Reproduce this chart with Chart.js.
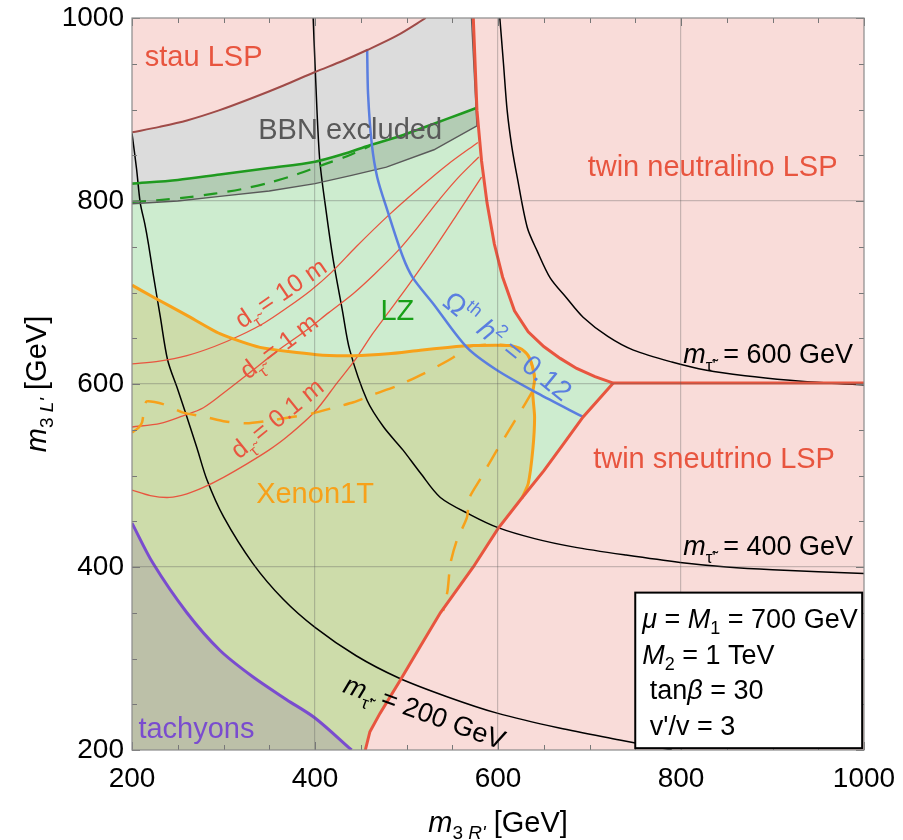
<!DOCTYPE html>
<html lang="en">
<head>
<meta charset="UTF-8">
<title>Twin stau parameter space</title>
<script src="https://cdn.jsdelivr.net/npm/chart.js@4"></script>
<style>
  body { margin: 0; background: #ffffff; }
  #wrap { width: 903px; height: 840px; }
</style>
</head>
<body>
<div id="wrap"><canvas id="plot" width="903" height="840"></canvas></div>
<script>
// axis range and tick labels (GeV)
const axisMin = 200, axisMax = 1000;
const tickValues = [200, 400, 600, 800, 1000];

// stau LSP boundary (stau LSP above)
const stauX = [200, 230, 260, 295, 330, 365, 400, 430, 457, 490, 521];
const stauY = [875, 881, 888, 899, 912, 926, 941, 953, 965, 981, 1000];

// BBN excluded: lower and right edge of the grey band
const bbnX = [200, 250, 296, 350, 400, 440, 478, 530, 577, 571];
const bbnY = [797, 800, 805, 811, 819, 828, 837, 856, 882, 1000];

// LZ limit (solid) and projected (dashed)
const lzX = [200, 250, 296, 350, 400, 430, 460, 490, 515, 545, 577];
const lzY = [819, 823, 829, 836, 843, 851, 861, 870, 879, 890, 902];
const lzDashX = [200, 230, 260, 290, 320, 350, 380, 410, 435, 460];
const lzDashY = [799, 801, 804, 808, 813, 820, 829, 840, 849, 860];

// twin neutralino LSP boundary, then twin sneutrino LSP boundary
const neutX = [573, 577, 582, 588, 596, 605, 618, 633, 650, 668, 686, 706, 726];
const neutY = [1000, 899, 844, 798, 753, 717, 680, 657, 641, 628, 617, 608, 601];
const sneuX = [726, 710, 693, 672, 650, 625, 600, 573, 555, 537, 515, 493, 471, 460, 455];
const sneuY = [601, 583, 564, 535, 505, 474, 442, 400, 375, 350, 313, 276, 240, 220, 200];

// Xenon1T limit (solid) and second orange contour (dashed)
const xenonX = [200, 225, 260, 296, 340, 402, 442, 480, 515, 545, 573, 613, 626, 633, 638, 640, 638, 640, 638, 633, 626];
const xenonY = [708, 694, 675, 655, 640, 632, 631, 633, 637, 640, 642, 642, 638, 631, 618, 605, 590, 564, 528, 491, 475];
const xenonDashX = [200, 207, 211, 213, 216, 234, 255, 280, 302, 325, 351, 375, 398, 420, 442, 465, 490, 520, 551, 565, 590, 613, 633, 640, 638, 627, 610, 599, 588, 580, 569, 566, 555, 548, 545, 542, 540];
const xenonDashY = [547, 552, 558, 570, 581, 578, 569, 564, 559, 557, 560, 564, 568, 574, 580, 589, 598, 612, 629, 640, 643, 642, 631, 607, 593, 574, 546, 528, 509, 495, 476, 454, 429, 404, 375, 360, 352];

// tachyon boundary
const tachX = [200, 223, 260, 296, 332, 369, 400, 440];
const tachY = [448, 404, 350, 309, 280, 255, 235, 200];

// relic abundance contour
const omegaX = [457, 458, 462, 468, 479, 496, 507, 529, 566, 599, 643, 693];
const omegaY = [966, 917, 863, 826, 790, 739, 716, 688, 640, 615, 590, 564];

// twin stau mass contours
const m200X = [200, 205, 209, 214, 218, 223, 231, 239, 250, 260, 271, 282, 300, 332, 365, 400, 445, 491, 545, 600, 667, 733, 790];
const m200Y = [874, 835, 798, 775, 753, 721, 673, 626, 594, 564, 530, 495, 455, 404, 365, 334, 303, 279, 258, 240, 224, 211, 200];
const m400X = [398, 400, 405, 412, 420, 430, 438, 457, 475, 496, 515, 537, 570, 600, 640, 682, 740, 799, 850, 900, 1000];
const m400Y = [1000, 950, 847, 790, 735, 680, 637, 582, 553, 528, 503, 476, 457, 443, 431, 422, 413, 405, 400, 397, 393];
const m600X = [602, 606, 610, 615, 621, 632, 643, 657, 675, 693, 720, 748, 790, 828, 870, 919, 960, 1000];
const m600Y = [1000, 950, 899, 860, 826, 771, 745, 716, 694, 673, 652, 637, 624, 615, 609, 604, 601, 599];

// stau decay length contours
const d10X = [200, 230, 260, 290, 318, 345, 369, 395, 418, 445, 480, 515, 545, 578];
const d10Y = [622, 625, 631, 641, 653, 667, 683, 702, 722, 750, 784, 815, 840, 864];
const d1X = [200, 231, 255, 278, 305, 332, 360, 391, 415, 442, 465, 491, 512, 533, 556, 579];
const d1Y = [553, 557, 565, 574, 594, 615, 637, 659, 678, 699, 720, 746, 771, 798, 825, 848];
const d01X = [200, 220, 241, 260, 278, 300, 326, 350, 369, 400, 424, 445, 463, 480, 500, 529, 555, 582];
const d01Y = [484, 478, 476, 480, 487, 498, 513, 528, 542, 570, 601, 628, 655, 678, 705, 746, 785, 826];

const FAM = "'Liberation Sans', Arial, Helvetica, sans-serif";
const RED = '#e8553f';

function pts(xs, ys) {
    return xs.map((x, i) => ({ x: x, y: ys[i] }));
}

function area(points, color, fill) {
    return {
        data: points, showLine: true, fill: fill || 'shape',
        backgroundColor: color, borderColor: 'rgba(0,0,0,0)', borderWidth: 1,
        pointRadius: 0, tension: 0
    };
}

function curve(points, color, width, dash, tension) {
    return {
        data: points, showLine: true, fill: false,
        borderColor: color, borderWidth: width, borderDash: dash || [],
        pointRadius: 0, tension: tension === undefined ? 0.3 : tension
    };
}

// filled regions
const pinkTwin = pts(neutX, neutY).concat(pts(sneuX, sneuY).slice(1),
    [{ x: axisMax, y: axisMin }, { x: axisMax, y: axisMax }]);
const greenLZ = pts(lzX, lzY).concat(
    pts(neutX, neutY).filter(p => p.y < lzY[lzY.length - 1]),
    pts(sneuX, sneuY).slice(1), [{ x: axisMin, y: axisMin }]);
const xenonArea = pts(xenonX, xenonY).concat(
    pts(sneuX, sneuY).filter(p => p.y < xenonY[xenonY.length - 1]), [{ x: axisMin, y: axisMin }]);
const tachArea = pts(tachX, tachY).concat([{ x: axisMin, y: axisMin }]);
const bbnArea = pts(stauX, stauY).concat(pts(bbnX, bbnY).reverse());

// bottom to top
const layers = [
    area(pinkTwin, '#f9dcd9'),
    area(pts(stauX, stauY), '#f9dcd9', 'end'),
    area(greenLZ, '#cdeccf'),
    area(xenonArea, '#cddcaa'),
    area(tachArea, '#bcc0a8'),
    area(bbnArea, 'rgba(60,60,60,0.18)'),
    curve(pts(m200X, m200Y), '#000', 1.5),
    curve(pts(m400X, m400Y), '#000', 1.5),
    curve(pts(m600X, m600Y), '#000', 1.5),
    curve(pts(d10X, d10Y), RED, 1.3),
    curve(pts(d1X, d1Y), RED, 1.3),
    curve(pts(d01X, d01Y), RED, 1.3),
    curve(pts(lzDashX, lzDashY), '#1f9a1f', 2.2, [14, 10]),
    curve(pts(lzX, lzY), '#1f9a1f', 2.6),
    curve(pts(bbnX, bbnY), '#5a5a5a', 1.4, [], 0),
    curve(pts(xenonDashX, xenonDashY), '#f7a11a', 2.5, [20, 14], 0.2),
    curve(pts(xenonX, xenonY), '#f7a11a', 3, [], 0.2),
    curve(pts(omegaX, omegaY), '#5a7ee0', 2.5),
    curve(pts(tachX, tachY), '#7a4ccf', 3),
    curve(pts(neutX, neutY).concat([{ x: axisMax, y: neutY[neutY.length - 1] }]), RED, 3, [], 0),
    curve(pts(sneuX, sneuY), RED, 3, [], 0),
    curve(pts(stauX, stauY), '#a04b48', 2)
];
layers.forEach((d, i) => { d.order = layers.length - i; });

// text helpers: run = [text, size, italic, dy]
function runFont(r) {
    return (r[2] ? 'italic ' : '') + r[1] + 'px ' + FAM;
}
function drawRuns(ctx, runs, x, y, align, angle, color) {
    ctx.save();
    ctx.translate(x, y);
    if (angle) ctx.rotate(angle * Math.PI / 180);
    ctx.fillStyle = color;
    ctx.textBaseline = 'alphabetic';
    let w = 0, big = 0;
    runs.forEach(r => { ctx.font = runFont(r); w += ctx.measureText(r[0]).width; big = Math.max(big, r[1]); });
    let cx = align === 'center' ? -w / 2 : align === 'right' ? -w : 0;
    const base = big * 0.36;
    runs.forEach(r => {
        ctx.font = runFont(r);
        ctx.fillText(r[0], cx, base + (r[3] || 0));
        cx += ctx.measureText(r[0]).width;
    });
    ctx.restore();
}
function mTau(size, rest) {
    return [['m', size, true], ['\u03c4\u0303\'', Math.round(size * 0.62), false, Math.round(size * 0.3)], [rest, size, false]];
}
function dTau(rest) {
    return [['d', 25, false], ['\u03c4\u0303', 16, false, 8], [rest, 25, false]];
}

// label positions in data coordinates
const labels = [
    { runs: [['stau LSP', 29]], x: 214, y: 959, align: 'left', color: RED },
    { runs: [['BBN excluded', 29]], x: 338, y: 879, align: 'left', color: '#595959' },
    { runs: [['twin neutralino LSP', 29]], x: 698, y: 839, align: 'left', color: RED },
    { runs: [['twin sneutrino LSP', 29]], x: 704, y: 520, align: 'left', color: RED },
    { runs: [['LZ', 29]], x: 490, y: 681, align: 'center', color: '#17a017' },
    { runs: [['Xenon1T', 29]], x: 400, y: 481, align: 'center', color: '#f7a11a' },
    { runs: [['tachyons', 29]], x: 207, y: 224, align: 'left', color: '#7a4ccf' },
    { runs: mTau(27, ' = 600 GeV'), x: 988, y: 634, align: 'right', color: '#000' },
    { runs: mTau(27, ' = 400 GeV'), x: 988, y: 424, align: 'right', color: '#000' },
    { runs: mTau(27, ' = 200 GeV'), x: 520, y: 242, align: 'center', angle: 20, color: '#000' },
    { runs: [['\u03a9', 28], ['th', 18, false, -12], [' h', 28, true], ['2', 18, false, -12], [' = 0.12', 28]],
      x: 611, y: 642, align: 'center', angle: 39, color: '#5a7ee0' },
    { runs: dTau(' = 10 m'), x: 362, y: 700, align: 'center', angle: -34, color: RED },
    { runs: dTau(' = 1 m'), x: 360, y: 642, align: 'center', angle: -37, color: RED },
    { runs: dTau(' = 0.1 m'), x: 358, y: 563, align: 'center', angle: -39, color: RED }
];

const legendLines = [
    [['\u03bc', 27, true], [' = ', 27], ['M', 27, true], ['1', 18, false, 6], [' = 700 GeV', 27]],
    [['M', 27, true], ['2', 18, false, 6], [' = 1 TeV', 27]],
    [[' tan', 27], ['\u03b2', 27, true], [' = 30', 27]],
    [[" v'/v = 3", 27]]
];

const decor = {
    id: 'decor',
    afterDraw(chart) {
        const ctx = chart.ctx;
        const a = chart.chartArea;
        const sx = chart.scales.x, sy = chart.scales.y;

        // minor ticks inside the frame
        ctx.save();
        ctx.strokeStyle = '#777';
        ctx.lineWidth = 1;
        ctx.beginPath();
        for (let v = axisMin; v <= axisMax; v += 50) {
            const len = v % 200 === 0 ? 8 : 5;
            const px = Math.round(sx.getPixelForValue(v)) + 0.5;
            const py = Math.round(sy.getPixelForValue(v)) + 0.5;
            ctx.moveTo(px, a.bottom); ctx.lineTo(px, a.bottom - len);
            ctx.moveTo(px, a.top); ctx.lineTo(px, a.top + len);
            ctx.moveTo(a.left, py); ctx.lineTo(a.left + len, py);
            ctx.moveTo(a.right, py); ctx.lineTo(a.right - len, py);
        }
        ctx.stroke();
        ctx.strokeStyle = '#8a8a8a';
        ctx.lineWidth = 1.2;
        ctx.strokeRect(a.left, a.top, a.right - a.left, a.bottom - a.top);
        ctx.restore();

        labels.forEach(l => {
            drawRuns(ctx, l.runs, sx.getPixelForValue(l.x), sy.getPixelForValue(l.y), l.align, l.angle || 0, l.color);
        });

        // parameter box
        const bl = sx.getPixelForValue(750), br = sx.getPixelForValue(998);
        const bt = sy.getPixelForValue(372), bb = sy.getPixelForValue(202);
        ctx.save();
        ctx.fillStyle = '#fff';
        ctx.fillRect(bl, bt, br - bl, bb - bt);
        ctx.strokeStyle = '#000';
        ctx.lineWidth = 2;
        ctx.strokeRect(bl, bt, br - bl, bb - bt);
        ctx.restore();
        legendLines.forEach((runs, i) => {
            drawRuns(ctx, runs, bl + 7, bt + 26 + i * 35.5, 'left', 0, '#000');
        });

        // axis titles
        drawRuns(ctx, [['m', 29, true], ['3 ', 19, false, 7], ["R'", 19, true, 7], [' [GeV]', 29]],
            (a.left + a.right) / 2, a.bottom + 72, 'center', 0, '#000');
        drawRuns(ctx, [['m', 29, true], ['3 ', 19, false, 7], ["L'", 19, true, 7], [' [GeV]', 29]],
            36, (a.top + a.bottom) / 2, 'center', -90, '#000');
    }
};

const gridColor = c => (c.tick && (c.tick.value === axisMin || c.tick.value === axisMax))
    ? 'rgba(0,0,0,0)' : 'rgba(90,90,90,0.32)';

new Chart(document.getElementById('plot').getContext('2d'), {
    type: 'scatter',
    data: { datasets: layers },
    options: {
        responsive: false,
        animation: false,
        devicePixelRatio: 1,
        layout: { padding: { top: 18, right: 39, left: 0, bottom: 0 } },
        plugins: { legend: { display: false }, tooltip: { enabled: false } },
        scales: {
            x: {
                type: 'linear', min: axisMin, max: axisMax,
                afterBuildTicks: s => { s.ticks = tickValues.map(v => ({ value: v })); },
                afterFit: s => { s.height = 90; s.paddingLeft = 0; s.paddingRight = 0; },
                ticks: { font: { family: FAM, size: 28 }, color: '#000', padding: 12, maxRotation: 0,
                         autoSkip: false, callback: v => String(v) },
                grid: { z: 1, color: gridColor, lineWidth: 1.2, drawTicks: false },
                border: { display: false }
            },
            y: {
                type: 'linear', min: axisMin, max: axisMax,
                afterBuildTicks: s => { s.ticks = tickValues.map(v => ({ value: v })); },
                afterFit: s => { s.width = 132; s.paddingTop = 0; s.paddingBottom = 0; },
                ticks: { font: { family: FAM, size: 28 }, color: '#000', padding: 8,
                         autoSkip: false, callback: v => String(v) },
                grid: { z: 1, color: gridColor, lineWidth: 1.2, drawTicks: false },
                border: { display: false }
            }
        }
    },
    plugins: [decor]
});
</script>
</body>
</html>
